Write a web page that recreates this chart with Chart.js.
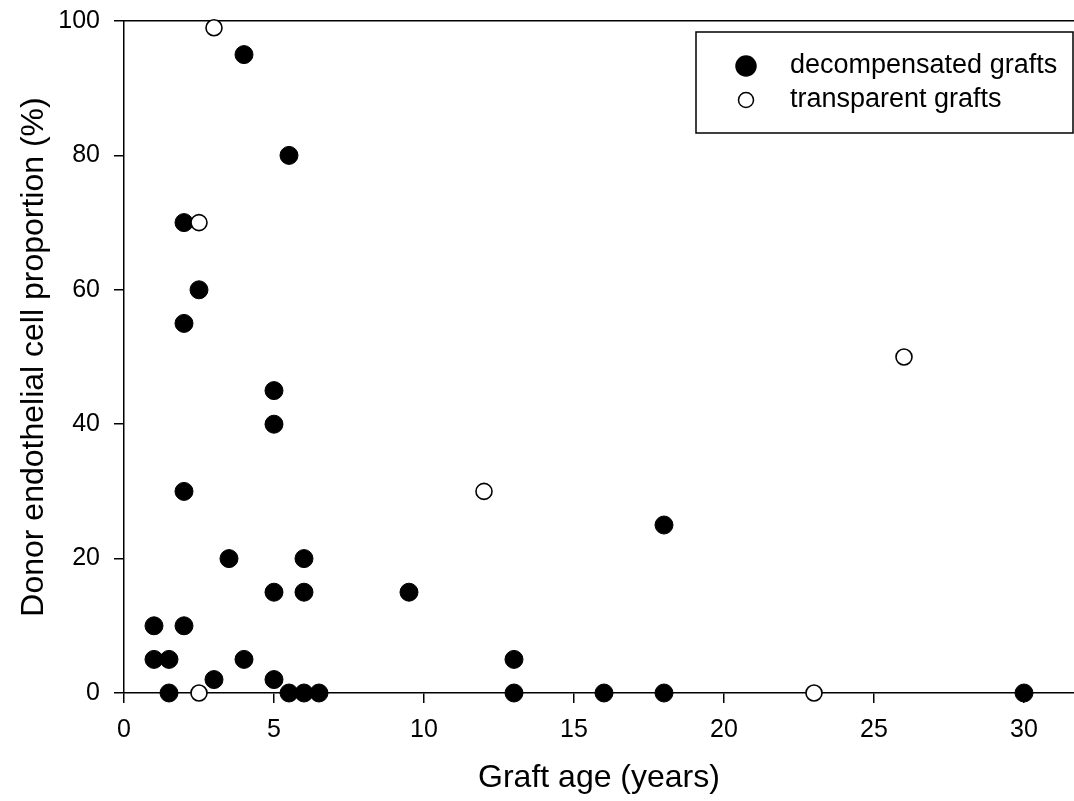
<!DOCTYPE html>
<html><head><meta charset="utf-8">
<script src="https://cdn.jsdelivr.net/npm/chart.js@4/dist/chart.umd.min.js"></script>
<style>html,body{margin:0;padding:0;background:#fff;}#wrap{width:1074px;height:801px;position:relative;}</style>
</head><body><div id="wrap"><canvas id="c" width="1074" height="801"></canvas></div>
<script>
const xTickValues = [0, 5, 10, 15, 20, 25, 30];
const yTickValues = [0, 20, 40, 60, 80, 100];
const seriesLabels = ['decompensated grafts', 'transparent grafts'];
const decompAge  = [4, 5.5, 2, 2.5, 2, 5, 5, 2, 3.5, 6, 5, 6, 9.5, 18, 1, 2, 1, 1.5, 4, 13, 3, 5, 1.5, 5.5, 6, 6.5, 13, 16, 18, 30];
const decompProp = [95, 80, 70, 60, 55, 45, 40, 30, 20, 20, 15, 15, 15, 25, 10, 10, 5, 5, 5, 5, 2, 2, 0, 0, 0, 0, 0, 0, 0, 0];
const transAge  = [3, 2.5, 2.5, 12, 26, 23];
const transProp = [99, 70, 0, 30, 50, 0];
const xTitle = 'Graft age (years)';
const yTitle = 'Donor endothelial cell proportion (%)';

const FONT = "'Liberation Sans', Arial, sans-serif";
Chart.defaults.font.family = FONT;
Chart.defaults.color = '#000';

const toPts = (xs, ys) => xs.map((x, i) => ({x: x, y: ys[i]}));

const boxLegend = {
  id: 'boxLegend',
  afterDraw(chart) {
    const ctx = chart.ctx, ca = chart.chartArea;
    const left = 696, top = ca.top + 11, w = ca.right - 1 - left, h = 101;
    ctx.save();
    ctx.fillStyle = '#fff';
    ctx.fillRect(left, top, w, h);
    ctx.lineWidth = 1.5; ctx.strokeStyle = '#000';
    ctx.strokeRect(left, top, w, h);
    ctx.font = "27px " + FONT;
    ctx.textBaseline = 'middle'; ctx.textAlign = 'left';
    chart.data.datasets.forEach((ds, i) => {
      const cy = top + 34 + i * 34;
      ctx.beginPath();
      ctx.arc(746, cy, i === 0 ? 10 : 7.5, 0, Math.PI * 2);
      ctx.fillStyle = ds.backgroundColor; ctx.fill();
      ctx.lineWidth = 1.5; ctx.strokeStyle = '#000'; ctx.stroke();
      ctx.fillStyle = '#000';
      ctx.fillText(ds.label, 790, cy);
    });
    ctx.restore();
  }
};

const setTicks = vals => scale => { scale.ticks = vals.map(v => ({value: v})); };
const fitX = h => s => { s.height = h; s.paddingLeft = 0; s.paddingRight = 0; s.paddingTop = 0; s.paddingBottom = 0; };
const fitY = w => s => { s.width = w; s.paddingLeft = 0; s.paddingRight = 0; s.paddingTop = 0; s.paddingBottom = 0; };

new Chart(document.getElementById('c'), {
  type: 'scatter',
  data: {
    datasets: [
      {label: seriesLabels[0], data: toPts(decompAge, decompProp), backgroundColor: '#000', borderColor: '#000', borderWidth: 1, pointRadius: 9, pointHoverRadius: 9, order: 1, clip: false},
      {label: seriesLabels[1], data: toPts(transAge, transProp), backgroundColor: '#fff', borderColor: '#000', borderWidth: 1.6, pointRadius: 8, pointHoverRadius: 8, order: 0, clip: false}
    ]
  },
  options: {
    responsive: false,
    animation: false,
    devicePixelRatio: 1,
    layout: {padding: 0, autoPadding: false},
    plugins: {legend: {display: false}, tooltip: {enabled: false}},
    scales: {
      x: {
        type: 'linear', position: 'bottom', min: 0, max: 31.667,
        afterBuildTicks: setTicks(xTickValues),
        afterFit: fitX(108),
        grid: {display: true, drawOnChartArea: false, drawTicks: true, tickLength: 10, color: '#000', lineWidth: 1.5},
        border: {display: true, color: '#000', width: 1.5},
        ticks: {font: {size: 25}, padding: 12, maxRotation: 0, color: '#000'},
        title: {display: true, text: xTitle, font: {size: 32}, color: '#000', padding: {top: 0, bottom: 4}}
      },
      x2: {
        type: 'linear', position: 'top', min: 0, max: 31.667,
        afterFit: fitX(21),
        grid: {display: false},
        border: {display: true, color: '#000', width: 1.5},
        ticks: {display: false}
      },
      y: {
        type: 'linear', position: 'left', min: 0, max: 100,
        afterBuildTicks: setTicks(yTickValues),
        afterFit: fitY(124),
        grid: {display: true, drawOnChartArea: false, drawTicks: true, tickLength: 10, color: '#000', lineWidth: 1.5},
        border: {display: true, color: '#000', width: 1.5},
        ticks: {font: {size: 25}, padding: 14, color: '#000'},
        title: {display: true, text: yTitle, font: {size: 32}, color: '#000', padding: {top: 15, bottom: 0}}
      }
    }
  },
  plugins: [boxLegend]
});
</script></body></html>
